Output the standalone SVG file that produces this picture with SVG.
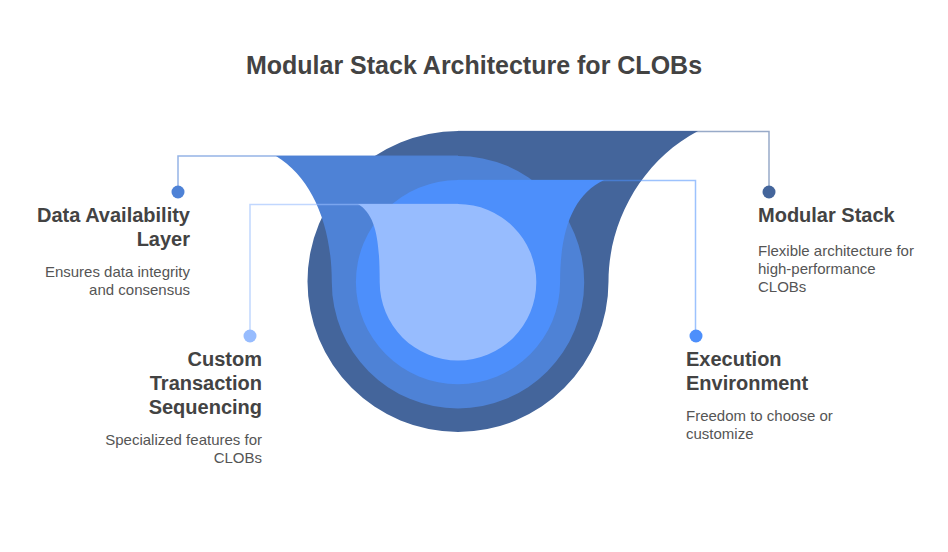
<svg xmlns="http://www.w3.org/2000/svg" width="948" height="552" viewBox="0 0 948 552">
<style>
text{font-family:"Liberation Sans",Arial,sans-serif}
.t{font-size:25px;font-weight:700;fill:#434343}
.h{font-size:20px;font-weight:700;fill:#434343}
.d{font-size:15px;fill:#555}
.e{text-anchor:end}
.c{fill:none;stroke-width:1.5}
</style>
<rect width="948" height="552" fill="#fff"/>
<text class="t" x="474" y="74" text-anchor="middle">Modular Stack Architecture for CLOBs</text>
<g id="shape-modular-stack"><path fill="#44659b" d="M458 131H698C643 160 608.500 220 608.500 281.500A150.500 150.500 0 0 1 307.500 281.500A150.500 150.500 0 0 1 458 131Z"/></g>
<g id="shape-data-availability"><path fill="#4e82d6" d="M276 156H458A126.200 126.200 0 0 1 584.200 282.200A126.200 126.200 0 0 1 331.800 282.200C331.800 225 312 178 276 156Z"/></g>
<g id="shape-execution"><path fill="#4d8ffb" d="M604 180H458A102.100 102.100 0 0 0 355.900 282.100A102.100 102.100 0 0 0 560.100 282.100C560.100 230 573 195 604 180Z"/></g>
<g id="shape-custom"><path fill="#97bcfe" d="M358 204H458A78.300 78.300 0 0 1 536.300 282.300A78.300 78.300 0 0 1 379.700 282.300C379.700 240 376 215 358 204Z"/></g>
<g id="connectors">
<path class="c" stroke="#44659b" stroke-opacity=".55" d="M458 131.500H769V192"/>
<path class="c" stroke="#4e82d6" stroke-opacity=".6" d="M178 192V156H458"/>
<path class="c" stroke="#4d8ffb" stroke-opacity=".55" d="M458 180.500H695.500V336"/>
<path class="c" stroke="#97bcfe" stroke-opacity=".6" d="M250 336V204.500H458"/>
</g>
<g id="node-modular-stack">
<circle cx="769" cy="192" r="6.500" fill="#44659b"/>
<text class="h" x="758" y="222">Modular Stack</text>
<text class="d" x="758" y="256">Flexible architecture for</text>
<text class="d" x="758" y="274">high-performance</text>
<text class="d" x="758" y="292">CLOBs</text>
</g>
<g id="node-data-availability">
<circle cx="178" cy="192" r="6.500" fill="#4e82d6"/>
<text class="h e" x="190" y="222">Data Availability</text>
<text class="h e" x="190" y="246">Layer</text>
<text class="d e" x="190" y="277">Ensures data integrity</text>
<text class="d e" x="190" y="295">and consensus</text>
</g>
<g id="node-execution">
<circle cx="696" cy="336" r="6.500" fill="#4d8ffb"/>
<text class="h" x="686" y="366">Execution</text>
<text class="h" x="686" y="390">Environment</text>
<text class="d" x="686" y="421">Freedom to choose or</text>
<text class="d" x="686" y="439">customize</text>
</g>
<g id="node-custom">
<circle cx="250" cy="336" r="6.500" fill="#97bcfe"/>
<text class="h e" x="262" y="366">Custom</text>
<text class="h e" x="262" y="390">Transaction</text>
<text class="h e" x="262" y="414">Sequencing</text>
<text class="d e" x="262" y="445">Specialized features for</text>
<text class="d e" x="262" y="463">CLOBs</text>
</g>
</svg>
